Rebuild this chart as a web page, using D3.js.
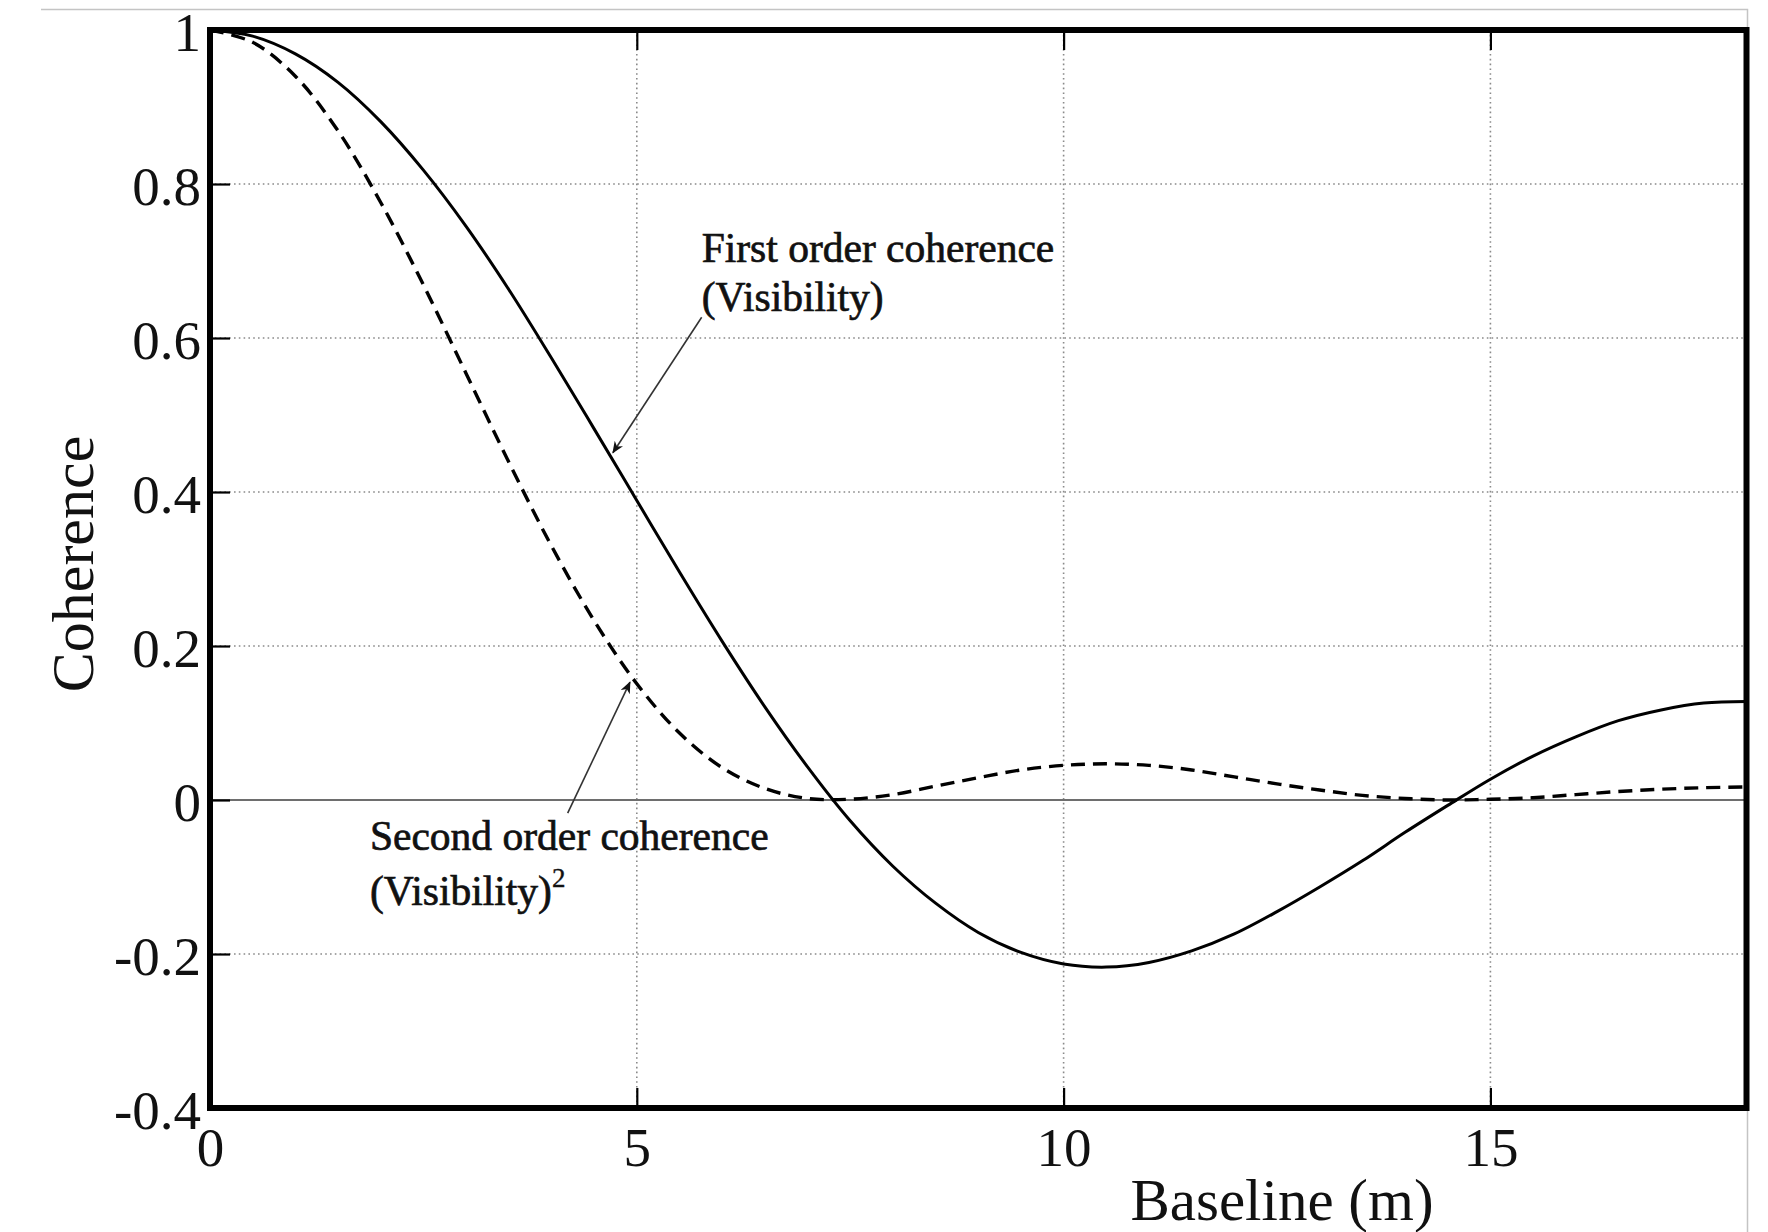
<!DOCTYPE html>
<html>
<head>
<meta charset="utf-8">
<script src="https://cdn.jsdelivr.net/npm/d3@7"></script>
<style>
  body { margin: 0; background: #fff; }
  text { font-family: "Liberation Serif", "Times New Roman", serif; fill: #111; }
</style>
</head>
<body>
<svg id="chart" width="1768" height="1232"></svg>
<script>
var baseline = [0, 0.5, 1, 1.5, 2, 2.5, 3, 3.5, 4, 4.5, 5, 5.5, 6, 6.5, 7, 7.5, 8, 8.5, 9,
                9.5, 10, 10.5, 11, 11.5, 12, 12.5, 13, 13.5, 14, 14.5, 15, 15.5, 16, 16.5, 17, 17.5, 18];
var firstOrder = [1, 0.992, 0.969, 0.932, 0.881, 0.818, 0.745, 0.663, 0.574, 0.482, 0.389, 0.296, 0.206,
                  0.121, 0.043, -0.027, -0.086, -0.134, -0.172, -0.198, -0.213, -0.217, -0.211, -0.196,
                  -0.174, -0.145, -0.113, -0.079, -0.042, -0.007, 0.027, 0.057, 0.082, 0.103, 0.117, 0.126, 0.128];
var secondOrder = [1, 0.984, 0.940, 0.869, 0.776, 0.669, 0.554, 0.439, 0.330, 0.233, 0.151, 0.087, 0.042,
                   0.015, 0.002, 0.001, 0.007, 0.018, 0.029, 0.039, 0.045, 0.047, 0.045, 0.039, 0.030,
                   0.021, 0.013, 0.006, 0.002, 0.000, 0.001, 0.003, 0.007, 0.011, 0.014, 0.016, 0.017];

var xTicks = [0, 5, 10, 15];
var yTicks = [-0.4, -0.2, 0, 0.2, 0.4, 0.6, 0.8, 1];
var yTickLabels = ["-0.4", "-0.2", "0", "0.2", "0.4", "0.6", "0.8", "1"];

// annotations in data coordinates
var noteFirst = { lines: ["First order coherence", "(Visibility)"], x: 5.76, y: [0.699, 0.635],
                  from: [5.76, 0.627], to: [4.72, 0.451] };
var noteSecond = { lines: ["Second order coherence", "(Visibility)"], x: 1.874, y: [-0.065, -0.137],
                   from: [4.19, -0.017], to: [4.92, 0.153] };

var plotLeft = 210, plotRight = 1746.5, plotTop = 30, plotBottom = 1108;

var svg = d3.select("#chart");

var x = d3.scaleLinear().domain([0, 18]).range([plotLeft, plotRight]);
var y = d3.scaleLinear().domain([-0.4, 1]).range([plotBottom, plotTop]);

// faint outer image border (top and right edge)
svg.append("path")
    .attr("d", "M41,9.5H1747.5V1232")
    .attr("fill", "none")
    .attr("stroke", "#c4c4c4")
    .attr("stroke-width", 1.5);

// dotted grid
var grid = svg.append("g");
grid.selectAll(".gy").data(yTicks.filter(function(d) { return d != 0 && d != -0.4 && d != 1; }))
  .enter().append("line")
    .attr("x1", plotLeft).attr("x2", plotRight)
    .attr("y1", function(d) { return y(d); }).attr("y2", function(d) { return y(d); })
    .attr("stroke", "#8a8a8a").attr("stroke-width", 1.6).attr("stroke-dasharray", "1.6,3.2");
grid.selectAll(".gx").data(xTicks.filter(function(d) { return d > 0; }))
  .enter().append("line")
    .attr("y1", plotTop).attr("y2", plotBottom)
    .attr("x1", function(d) { return x(d); }).attr("x2", function(d) { return x(d); })
    .attr("stroke", "#8a8a8a").attr("stroke-width", 1.6).attr("stroke-dasharray", "1.6,3.2");

// zero line
svg.append("line")
    .attr("x1", plotLeft).attr("x2", plotRight)
    .attr("y1", y(0)).attr("y2", y(0))
    .attr("stroke", "#6e6e6e").attr("stroke-width", 2.2);

// axes with inward ticks
var yAxis = d3.axisLeft(y).tickValues(yTicks)
    .tickFormat(function(d, i) { return yTickLabels[i]; })
    .tickSizeInner(-20).tickSizeOuter(0).tickPadding(9);
var gy = svg.append("g").attr("transform", "translate(" + plotLeft + ",0)").call(yAxis);
gy.selectAll("text").attr("dy", "0.38em").style("font-size", "55px")
    .style("font-family", "Liberation Serif").attr("fill", "#111");

var xAxis = d3.axisBottom(x).tickValues(xTicks).tickFormat(d3.format("d"))
    .tickSizeInner(-20).tickSizeOuter(0).tickPadding(19);
var gx = svg.append("g").attr("transform", "translate(0," + plotBottom + ")").call(xAxis);
gx.selectAll("text").style("font-size", "55px")
    .style("font-family", "Liberation Serif").attr("fill", "#111");

var xTop = d3.axisTop(x).tickValues(xTicks).tickFormat("")
    .tickSizeInner(-20).tickSizeOuter(0);
svg.append("g").attr("transform", "translate(0," + plotTop + ")").call(xTop);

svg.selectAll(".domain").remove();
svg.selectAll(".tick line").attr("stroke", "#000").attr("stroke-width", 2.2);

// curves
var line1 = d3.line()
    .x(function(d, i) { return x(baseline[i]); })
    .y(function(d) { return y(d); })
    .curve(d3.curveCatmullRom);

svg.append("path").datum(secondOrder)
    .attr("d", line1)
    .attr("fill", "none").attr("stroke", "#000").attr("stroke-width", 3.4)
    .attr("stroke-dasharray", "14,8");

svg.append("path").datum(firstOrder)
    .attr("d", line1)
    .attr("fill", "none").attr("stroke", "#000").attr("stroke-width", 3);

// frame
svg.append("rect")
    .attr("x", plotLeft).attr("y", plotTop)
    .attr("width", plotRight - plotLeft).attr("height", plotBottom - plotTop)
    .attr("fill", "none").attr("stroke", "#000").attr("stroke-width", 6);

// axis titles
svg.append("text")
    .attr("x", 1282).attr("y", 1220)
    .attr("text-anchor", "middle")
    .style("font-size", "59px")
    .text("Baseline (m)");

svg.append("text")
    .attr("transform", "translate(93,564) rotate(-90)")
    .attr("text-anchor", "middle")
    .style("font-size", "60px")
    .text("Coherence");

// arrows
var defs = svg.append("defs");
defs.append("marker")
    .attr("id", "head")
    .attr("viewBox", "0 0 12 10")
    .attr("refX", 11).attr("refY", 5)
    .attr("markerWidth", 12).attr("markerHeight", 10)
    .attr("markerUnits", "userSpaceOnUse")
    .attr("orient", "auto")
  .append("path")
    .attr("d", "M0,0L12,5L0,10L3.5,5Z")
    .attr("fill", "#111");

[noteFirst, noteSecond].forEach(function(n, k) {
  svg.append("line")
      .attr("x1", x(n.from[0])).attr("y1", y(n.from[1]))
      .attr("x2", x(n.to[0])).attr("y2", y(n.to[1]))
      .attr("stroke", "#333").attr("stroke-width", 1.6)
      .attr("marker-end", "url(#head)");
  n.lines.forEach(function(t, j) {
    var tx = svg.append("text")
        .attr("x", x(n.x)).attr("y", y(n.y[j]))
        .style("font-size", "41.5px")
        .attr("stroke", "#111").attr("stroke-width", 0.7)
        .text(t);
    if (k == 1 && j == 1) {
      tx.append("tspan").attr("dy", -18).style("font-size", "27px").attr("stroke-width", 0.4).text("2");
    }
  });
});
</script>
</body>
</html>
